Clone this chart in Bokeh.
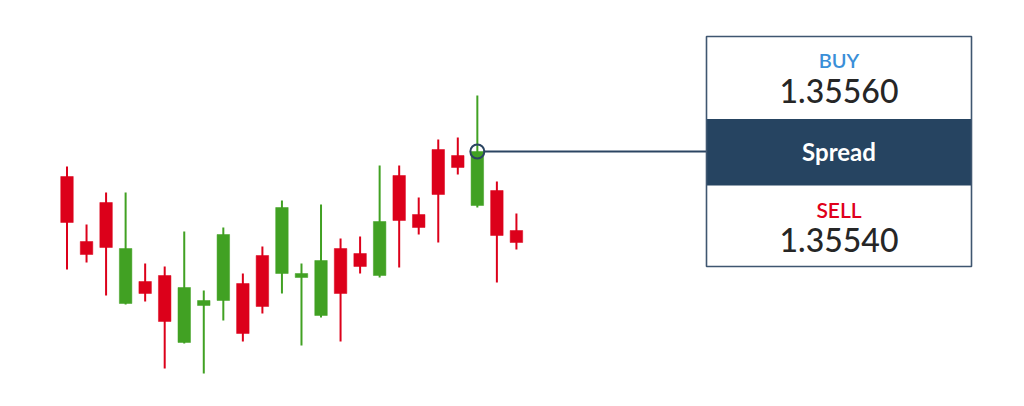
from bokeh.plotting import figure
from bokeh.models import Range1d, ColumnDataSource
from bokeh.core.properties import value
from bokeh.embed import file_html
from bokeh.resources import INLINE

# ---- data ----
idx = list(range(24))
highs = [1.35545, 1.35487, 1.35519, 1.35519, 1.35448, 1.35445, 1.35480, 1.35421,
         1.35484, 1.35438, 1.35465, 1.35511, 1.35448, 1.35507, 1.35473, 1.35475,
         1.35546, 1.35546, 1.35514, 1.35572, 1.35574, 1.35616, 1.35530, 1.35498]
opens = [1.35535, 1.35470, 1.35509, 1.35408, 1.35430, 1.35436, 1.35369, 1.35406,
         1.35411, 1.35428, 1.35456, 1.35438, 1.35434, 1.35396, 1.35463, 1.35458,
         1.35436, 1.35536, 1.35497, 1.35562, 1.35556, 1.35506, 1.35521, 1.35481]
closes = [1.35489, 1.35457, 1.35464, 1.35463, 1.35418, 1.35390, 1.35424, 1.35411,
          1.35477, 1.35378, 1.35405, 1.35504, 1.35438, 1.35451, 1.35418, 1.35445,
          1.35490, 1.35491, 1.35484, 1.35517, 1.35544, 1.35560, 1.35476, 1.35469]
lows = [1.35442, 1.35449, 1.35416, 1.35407, 1.35410, 1.35343, 1.35368, 1.35338,
        1.35391, 1.35370, 1.35398, 1.35418, 1.35366, 1.35394, 1.35370, 1.35438,
        1.35434, 1.35444, 1.35477, 1.35469, 1.35537, 1.35504, 1.35429, 1.35462]
buy_label, buy_price = "BUY", "1.35560"
sell_label, sell_price = "SELL", "1.35540"
spread_label = "Spread"
marked_index = 21

RED = "#dc001a"
GREEN = "#41a123"
NAVY = "#264461"

# reference-pixel helpers
def to_x(px):
    return (px - 66.5) / 19.54

def to_y(py):
    return 1.35560 + (151 - py) * 1e-5

p = figure(width=1008, height=390, output_backend="svg", toolbar_location=None,
           x_range=Range1d(to_x(0), to_x(1008)), y_range=Range1d(to_y(390), to_y(0)),
           x_axis_type=None, y_axis_type=None, min_border=0)
p.grid.visible = False
p.outline_line_color = None
p.background_fill_color = "white"
p.border_fill_color = "white"

colors = [GREEN if c > o else RED for o, c in zip(opens, closes)]
src = ColumnDataSource(dict(x=idx, h=highs, l=lows,
                            top=[max(o, c) for o, c in zip(opens, closes)],
                            bot=[min(o, c) for o, c in zip(opens, closes)],
                            color=colors))
p.segment(x0="x", x1="x", y0="l", y1="h", color="color", line_width=2, source=src)
p.vbar(x="x", width=0.64, top="top", bottom="bot", fill_color="color",
       line_color="color", line_width=0.5, source=src)

# connector + marker
my = closes[marked_index]
p.segment(x0=[to_x(483)], x1=[to_x(706)], y0=[my], y1=[my], line_color="#2b4562", line_width=2)
p.scatter(x=[marked_index], y=[my], size=14, marker="circle", fill_color=None,
          line_color="#2b4562", line_width=2)

# box
p.quad(left=[to_x(706)], right=[to_x(971)], top=[to_y(118.5)], bottom=[to_y(185)],
       fill_color=NAVY, line_color=None)
p.quad(left=[to_x(706)], right=[to_x(971)], top=[to_y(36)], bottom=[to_y(266)],
       fill_color=None, line_color="#3f5670", line_width=1.6)

cx = to_x(838.5)

def label(txt, base_py, size, color, face, style="normal"):
    p.text(x=[cx], y=[to_y(base_py - 0.32 * size)], text=[txt], text_font=value(face),
           text_font_size=f"{size}px", text_font_style=style, text_color=color,
           text_align="center", text_baseline="alphabetic")

label(buy_label, 66.3, 20, "#3a8fd8", "'Lato Semibold', Lato")
label(buy_price, 100.7, 32, "#262626", "'Lato Medium', Lato")
label(spread_label, 158.8, 24, "white", "Lato", "bold")
label(sell_label, 215.3, 21, "#e0001b", "'Lato Semibold', Lato")
label(sell_price, 249.3, 32, "#262626", "'Lato Medium', Lato")

open("out.html", "w").write(file_html(p, INLINE))
